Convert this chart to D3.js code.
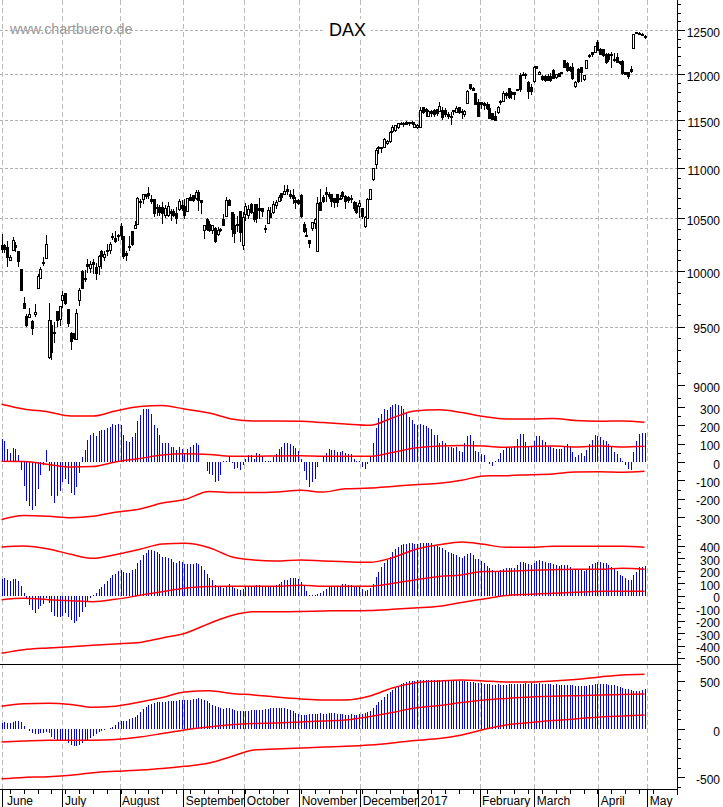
<!DOCTYPE html>
<html lang="en">
<head>
<meta charset="UTF-8">
<title>DAX</title>
<script src="https://cdn.jsdelivr.net/npm/d3@7"></script>
<style>
  html, body { margin: 0; padding: 0; background: #fff; }
  svg { display: block; font-family: "Liberation Sans", Arial, sans-serif; }
</style>
</head>
<body>
<div id="chart"></div>
<script>
// daily candles
var opens = [
10244,10237,10221,10099,10192,10244,10186,10019,9709,9585,
9579,9548,9609,9842,9936,10080,10122,9234,9509,9452,
9633,9558,9736,9794,9655,9441,9435,9390,9736,9997,
9936,10061,10026,10077,10038,10045,10180,10131,10196,10196,
10327,10308,10321,10423,10327,10167,10231,10375,10404,10442,
10666,10686,10736,10740,10686,10686,10610,10610,10610,10533,
10533,10570,10570,10547,10587,10627,10620,10567,10710,10726,
10693,10753,10673,10381,10494,10445,10388,10404,10349,10397,
10494,10517,10676,10560,10436,10429,10570,10237,10540,10533,
10640,10560,10640,10600,10593,10404,10452,10550,10560,10627,
10666,10740,10736,10786,10733,10726,10676,10676,10726,10445,
10340,10285,10404,10452,10183,10660,10710,10753,10733,10733,
10693,10733,10700,10753,10720,10710,10700,10660,10627,10617,
10593,10420,10500,10687,10883,11035,11202,11212,11209,11257,
11271,11375,11385,11420,11469,11469,11472,11472,11476,11417,
11417,11417,11633,11615,11539,11597,11604,11615,11597,11604,
11604,11561,11539,11593,11586,11633,11597,11557,11683,11885,
11838,11784,11694,11687,11676,11665,11629,11568,11543,11586,
11687,11705,11784,11838,11802,11795,11827,11982,11989,12000,
11910,11856,11914,12081,11996,11978,11978,11975,11975,12040,
11968,12004,12015,12151,12114,12077,12077,11860,12052,12070,
11939,12059,12206,12243,12243,12360,12280,12280,12224,12224,
12224,12169,12188,12144,12144,12022,12015,12048,12287,12471,
12464,12452,12430];
var highs = [
10349,10253,10282,10147,10317,10269,10186,10019,9761,9609,
9664,9558,9703,9973,10038,10135,10340,9709,9558,9542,
9642,9685,9815,9800,9655,9455,9441,9655,9845,10006,
10013,10109,10093,10109,10077,10147,10199,10189,10253,10269,
10360,10375,10349,10455,10327,10189,10333,10381,10477,10710,
10686,10743,10736,10810,10726,10693,10643,10627,10660,10633,
10660,10593,10593,10610,10693,10676,10686,10693,10743,10733,
10776,10776,10676,10433,10500,10478,10436,10413,10413,10404,
10543,10710,10693,10560,10543,10527,10577,10560,10653,10627,
10653,10643,10643,10703,10600,10436,10610,10610,10666,10676,
10733,10743,10826,10833,10776,10786,10710,10693,10743,10462,
10404,10292,10468,10500,10710,10793,10726,10810,10760,10743,
10700,10743,10726,10766,10726,10720,10726,10666,10660,10676,
10600,10527,10700,10793,11000,11202,11229,11219,11313,11288,
11382,11444,11451,11472,11479,11479,11486,11479,11486,11479,
11462,11640,11640,11629,11604,11604,11615,11622,11694,11640,
11629,11586,11586,11604,11651,11640,11615,11604,11820,11892,
11856,11784,11730,11694,11694,11694,11676,11568,11593,11651,
11712,11809,11802,11845,11809,11802,11838,12011,12025,12011,
11928,11892,12085,12096,12040,11993,11993,12004,12015,12059,
12004,12015,12029,12162,12132,12096,12125,11921,12066,12077,
11993,12162,12224,12250,12316,12383,12298,12287,12235,12232,
12243,12235,12235,12151,12162,12029,12029,12096,12452,12482,
12474,12464,12445];
var lows = [
10167,10173,10038,10093,10189,10180,10038,9815,9655,9497,
9573,9426,9582,9842,9927,10045,10115,9223,9214,9356,
9497,9503,9664,9694,9497,9299,9384,9384,9685,9842,
9897,9982,9982,9976,9921,9967,10019,10093,10141,10157,
10295,10263,10285,10295,10115,10093,10189,10237,10397,10436,
10600,10643,10686,10686,10643,10510,10527,10527,10445,10500,
10510,10478,10510,10445,10577,10577,10494,10560,10666,10660,
10676,10577,10543,10301,10381,10372,10349,10263,10333,10365,
10429,10510,10620,10317,10263,10365,10269,10199,10478,10494,
10543,10462,10455,10494,10510,10359,10445,10500,10543,10593,
10660,10666,10726,10726,10693,10643,10587,10627,10500,10359,
10321,10212,10381,10397,10180,10577,10653,10660,10693,10610,
10600,10610,10676,10693,10593,10653,10653,10577,10543,10500,
10494,10404,10500,10680,10873,10993,11150,11160,11202,11243,
11264,11368,11375,11410,11444,11427,11444,11438,11451,11417,
11410,11417,11568,11532,11532,11532,11528,11543,11593,11497,
11532,11514,11451,11550,11575,11568,11514,11532,11676,11820,
11809,11665,11532,11615,11604,11604,11507,11497,11486,11568,
11658,11701,11730,11723,11730,11712,11809,11802,11975,11946,
11723,11766,11906,12052,11993,11924,11914,11921,11917,11942,
11950,11964,12000,12066,12022,12029,11939,11849,11903,11914,
11928,12052,12184,12188,12235,12254,12213,12188,12114,12140,
12066,12132,12125,12103,11993,11986,11942,12007,12287,12449,
12445,12434,12401];
var closes = [
10205,10199,10125,10128,10292,10221,10093,9827,9661,9512,
9603,9483,9624,9955,10013,10074,10253,9555,9271,9446,
9555,9679,9773,9703,9530,9370,9398,9618,9827,9842,
9924,10045,10058,10058,9982,10141,10141,10154,10186,10253,
10314,10276,10340,10333,10135,10147,10224,10247,10429,10700,
10653,10736,10720,10726,10666,10543,10600,10560,10547,10600,
10620,10543,10527,10500,10666,10593,10533,10693,10680,10680,
10750,10673,10660,10433,10391,10381,10433,10276,10381,10381,
10436,10676,10627,10397,10359,10442,10365,10510,10620,10587,
10560,10494,10500,10577,10567,10397,10577,10510,10633,10653,
10710,10710,10760,10760,10720,10700,10653,10647,10520,10372,
10327,10263,10462,10487,10650,10577,10666,10733,10720,10666,
10660,10660,10686,10720,10666,10676,10693,10593,10560,10643,
10520,10510,10687,10787,10993,11184,11209,11198,11299,11271,
11368,11417,11438,11462,11458,11455,11458,11462,11469,11455,
11444,11604,11586,11593,11593,11568,11557,11575,11647,11528,
11561,11539,11525,11600,11629,11586,11590,11597,11813,11838,
11820,11669,11539,11665,11658,11629,11514,11507,11497,11640,
11701,11784,11766,11748,11773,11773,11834,11831,12000,11982,
11809,11809,12070,12066,12015,11939,11924,11924,11924,11950,
11993,11978,12007,12077,12040,12040,11950,11906,11914,12015,
11986,12151,12195,12224,12309,12261,12224,12206,12132,12162,
12206,12155,12132,12114,12004,12000,11978,12029,12445,12456,
12456,12441,12408];

// histograms of the three lower panels
var hist1 = [
124,113,69,47,76,71,36,-44,-131,-213,
-242,-262,-240,-149,-73,-15,64,-51,-186,-224,
-187,-158,-109,-91,-122,-171,-182,-138,-62,25,
64,118,146,158,140,167,173,173,186,191,
209,200,209,204,146,113,109,136,158,222,
255,288,288,288,260,200,186,146,104,104,
104,82,82,64,82,73,45,73,82,91,
104,91,0,0,-47,-67,-69,-109,-106,-73,
5,5,27,-5,-38,-35,-46,-18,18,36,
36,18,47,42,31,4,7,5,29,42,
69,80,104,104,96,89,75,60,15,-51,
-100,-138,-111,-91,-29,0,29,47,69,64,
64,53,53,58,47,42,42,15,4,5,
-27,-38,-9,25,102,184,238,260,288,282,
298,309,315,309,304,288,266,244,228,206,
200,206,200,195,184,178,149,146,102,116,
102,80,80,75,80,58,53,106,140,146,
113,58,53,42,36,0,-9,-24,4,15,
47,64,76,76,76,86,124,151,151,107,
82,80,113,140,140,118,107,86,86,75,
69,69,69,86,96,80,53,25,36,47,
31,64,96,118,146,142,138,118,113,96,
82,53,42,20,4,-18,-40,-46,53,113,
151,157,157];
var hist2 = [
133,141,125,117,133,133,117,77,21,-29,
-75,-115,-139,-107,-83,-67,-19,-59,-131,-163,
-171,-171,-163,-139,-171,-195,-216,-200,-171,-131,
-91,-43,-19,5,21,53,69,93,117,141,
165,173,197,205,189,181,181,205,213,261,
285,325,341,365,365,357,349,333,309,309,
301,291,272,261,277,269,253,253,253,253,
261,253,237,205,173,141,125,85,69,69,
61,69,93,77,61,53,45,51,67,72,
72,72,83,83,72,72,72,72,72,83,
93,107,123,128,139,139,139,131,107,75,
35,3,3,3,11,19,35,51,67,72,
72,72,72,91,91,83,83,72,72,67,
51,35,43,59,91,147,187,227,259,283,
312,347,371,387,403,411,416,419,419,416,
411,419,419,419,419,419,403,395,387,379,
363,347,339,331,323,307,299,315,331,339,
323,291,291,275,259,235,219,203,187,187,
203,211,219,219,219,219,243,267,267,259,
251,243,259,275,283,275,267,259,259,251,
243,235,243,243,243,227,211,203,203,203,
195,211,235,251,259,267,267,259,259,243,
227,211,195,163,155,139,123,123,163,187,
227,227,237];
var hist3 = [
62,73,62,62,73,83,83,73,31,0,
-24,-42,-48,-48,-42,-42,-31,-42,-80,-107,
-114,-114,-114,-114,-145,-166,-176,-176,-166,-145,
-125,-114,-93,-73,-52,-31,-21,-10,0,10,
21,42,73,83,83,83,104,114,125,145,
176,208,228,249,260,270,277,280,280,280,
291,291,291,291,298,298,298,301,301,308,
315,322,315,301,287,270,253,239,228,218,
211,218,218,208,197,190,187,190,188,190,
192,195,195,198,200,205,210,215,220,222,
222,220,215,210,200,185,170,155,150,148,
150,155,155,158,160,162,160,160,162,165,
165,160,158,155,150,150,152,150,150,152,
156,165,175,187,215,245,275,301,330,360,
384,405,430,450,467,478,488,495,498,502,
505,507,510,512,510,512,510,512,508,510,
505,508,505,508,500,502,498,495,490,490,
485,480,478,475,470,468,465,460,458,462,
458,460,458,462,465,465,462,468,470,472,
470,472,468,470,472,468,465,462,465,460,
462,458,460,458,455,452,455,450,448,445,
448,450,455,458,462,465,468,470,465,460,
458,455,450,440,430,420,410,400,395,392,
395,405,415];

// red bands, read every few days
var bandDays = [0,8,17,25,33,41,50,58,66,75,83,91,99,108,116,124,133,141,149,158,166,174,182,191,199,207,216,224,232];
var band1Upper = [315,289,273,251,251,278,303,308,289,267,235,224,224,222,215,207,200,240,278,285,270,248,235,235,237,226,222,224,217];
var band1Mid = [4,3,-13,-27,-25,0,19,38,45,41,31,31,33,34,31,31,31,52,76,87,90,87,80,85,87,82,87,82,86];
var band1Lower = [-314,-292,-296,-304,-296,-274,-256,-224,-205,-161,-167,-167,-164,-154,-164,-146,-142,-133,-124,-116,-100,-76,-75,-69,-65,-55,-53,-56,-51];
var band2Upper = [390,398,374,331,299,328,371,414,419,384,312,286,278,286,278,272,267,304,368,408,430,411,387,387,395,395,395,395,387];
var band2Mid = [-32,-21,-32,-40,-48,-29,3,32,59,74,75,75,75,83,75,75,75,98,126,154,166,194,195,203,208,211,211,219,211];
var band2Lower = [-461,-432,-418,-408,-397,-386,-374,-338,-302,-222,-158,-128,-128,-126,-122,-120,-118,-109,-98,-85,-54,-26,2,11,19,27,35,35,35];
var band3Upper = [236,262,267,255,225,236,280,327,384,398,369,353,332,312,301,301,343,426,478,498,509,498,488,488,498,514,540,561,568];
var band3Mid = [-135,-125,-117,-117,-117,-109,-83,-47,-10,21,44,57,62,73,83,93,130,171,218,244,275,301,317,332,340,346,353,358,363];
var band3Lower = [-516,-502,-496,-481,-454,-439,-426,-410,-387,-353,-286,-218,-208,-197,-187,-180,-166,-145,-119,-99,-62,-5,42,67,88,104,125,135,145];

// time axis
var monthNames = ["June","July","August","September","October","November","December","2017","February","March","April","May"];
var monthDays = [0,22,42.6,65.6,87.6,107.4,129.4,150.4,172.5,192.2,215.3,233];
var weekDays = d3.range(3,130,5).concat(d3.range(130,240,5));

// value axis ticks
var priceTicks = d3.range(9000,12501,500);
var priceMinor = d3.range(9000,12801,100);
var ticks1 = [300,200,100,0,-100,-200,-300];
var minor1 = d3.range(-400,351,50);
var ticks2 = [400,300,200,100,0,-100,-200,-300,-400,-500];
var minor2 = d3.range(-550,451,50);
var ticks3 = [500,0,-500];
var minor3 = d3.range(-600,601,100);

var width = 723, height = 807;
var axisX = 677, bottomY = 789;

var svg = d3.select("#chart").append("svg")
  .attr("width", width)
  .attr("height", height);

var x = d3.scaleLinear().domain([0,233]).range([1.5,647.3]);
var xp = function(d) { return Math.round(x(d)); };

var yPrice = d3.scaleLog().domain([9000,12500]).range([385,30]);
var y1 = d3.scaleLinear().domain([-300,300]).range([517,407]);
var y2 = d3.scaleLinear().domain([-500,400]).range([658.2,545.7]);
var y3 = d3.scaleLinear().domain([-500,500]).range([777.2,680.8]);

// grid
svg.append("g").selectAll("line").data(priceTicks.filter(function(d){ return d > 9000; })).enter().append("line")
  .attr("x1", 0)
  .attr("x2", axisX)
  .attr("y1", function(d){ return Math.round(yPrice(d)) + 0.5; })
  .attr("y2", function(d){ return Math.round(yPrice(d)) + 0.5; })
  .attr("stroke", "#b0b0b0")
  .attr("stroke-dasharray", "3 2");

svg.append("g").selectAll("line").data(monthDays).enter().append("line")
  .attr("x1", function(d){ return xp(d) + 0.5; })
  .attr("x2", function(d){ return xp(d) + 0.5; })
  .attr("y1", 0)
  .attr("y2", bottomY)
  .attr("stroke", "#bbb")
  .attr("stroke-dasharray", "5 3");

// titles
svg.append("text")
  .attr("x", 10).attr("y", 34)
  .attr("font-size", 14.3)
  .attr("fill", "#999")
  .text("www.chartbuero.de");
svg.append("rect")
  .attr("x", 325).attr("y", 19)
  .attr("width", 46).attr("height", 21)
  .attr("fill", "#fff");
svg.append("text")
  .attr("x", 329).attr("y", 36)
  .attr("font-size", 18)
  .attr("fill", "#000")
  .text("DAX");

// candles
var candles = svg.append("g").attr("shape-rendering", "crispEdges");
candles.selectAll("line").data(opens).enter().append("line")
  .attr("x1", function(d,i){ return xp(i) + 0.5; })
  .attr("x2", function(d,i){ return xp(i) + 0.5; })
  .attr("y1", function(d,i){ return yPrice(highs[i]); })
  .attr("y2", function(d,i){ return yPrice(lows[i]); })
  .attr("stroke", "#000");
candles.selectAll("rect").data(opens).enter().append("rect")
  .attr("x", function(d,i){ return xp(i) - 0.5; })
  .attr("width", 2)
  .attr("y", function(d,i){ return yPrice(Math.max(d, closes[i])); })
  .attr("height", function(d,i){ return Math.max(1, yPrice(Math.min(d, closes[i])) - yPrice(Math.max(d, closes[i]))); })
  .attr("fill", function(d,i){ return closes[i] < d ? "#000" : "#fff"; })
  .attr("stroke", "#000");

function drawPanel(y, bars, upper, mid, lower) {
  var g = svg.append("g");
  g.append("g").attr("shape-rendering", "crispEdges")
    .selectAll("rect").data(bars).enter().append("rect")
    .attr("x", function(d,i){ return xp(i); })
    .attr("width", 1)
    .attr("y", function(d){ return y(Math.max(d,0)); })
    .attr("height", function(d){ return Math.abs(y(d) - y(0)); })
    .attr("fill", "#0000ff");

  var line = d3.line()
    .x(function(d,i){ return x(bandDays[i]); })
    .y(function(d){ return y(d); })
    .curve(d3.curveMonotoneX);

  g.selectAll("path").data([upper, mid, lower]).enter().append("path")
    .attr("d", line)
    .attr("fill", "none")
    .attr("stroke", "#ff0000")
    .attr("stroke-width", 1.5);
}

drawPanel(y1, hist1, band1Upper, band1Mid, band1Lower);
drawPanel(y2, hist2, band2Upper, band2Mid, band2Lower);
drawPanel(y3, hist3, band3Upper, band3Mid, band3Lower);

// right axes, major ticks carry the labels
function drawAxis(y, major, minor) {
  var a = svg.append("g").attr("transform", "translate(" + axisX + ",0)").attr("shape-rendering", "crispEdges");
  a.call(d3.axisRight(y).tickValues(minor).tickSize(4).tickFormat(""));
  a.select(".domain").remove();
  var b = svg.append("g").attr("transform", "translate(" + axisX + ",0)");
  b.call(d3.axisRight(y).tickValues(major).tickSize(8));
  b.select(".domain").remove();
  b.selectAll("line").attr("shape-rendering", "crispEdges");
  b.selectAll("text")
    .attr("x", 43)
    .attr("dy", "0.5em")
    .attr("text-anchor", "end")
    .attr("font-size", 12)
    .attr("font-family", "Liberation Sans")
    .text(function(d){ return d; });
}
drawAxis(yPrice, priceTicks, priceMinor);
drawAxis(y1, ticks1, minor1);
drawAxis(y2, ticks2, minor2);
drawAxis(y3, ticks3, minor3);

// frame lines
svg.append("line").attr("x1", axisX + 0.5).attr("x2", axisX + 0.5).attr("y1", 0).attr("y2", 795).attr("stroke", "#000");
svg.append("line").attr("x1", 0).attr("x2", axisX).attr("y1", 664.5).attr("y2", 664.5).attr("stroke", "#000");

// time axis
var weeks = svg.append("g").attr("transform", "translate(0," + bottomY + ")").attr("shape-rendering", "crispEdges");
weeks.call(d3.axisBottom(x).tickValues(weekDays.filter(function(d){ return x(d) < axisX; })).tickSize(5).tickFormat(""));
weeks.select(".domain").remove();

var months = svg.append("g").attr("transform", "translate(0," + bottomY + ")");
months.call(d3.axisBottom(x).tickValues(monthDays).tickSize(18).tickFormat(function(d,i){ return monthNames[i]; }));
months.select(".domain").remove();
months.selectAll("line").attr("shape-rendering", "crispEdges");
months.selectAll("text")
  .attr("x", function(d,i){ return i == 0 ? 5 : 2; })
  .attr("y", 7)
  .attr("dy", "0.71em")
  .attr("text-anchor", "start")
  .attr("font-size", 12)
  .attr("font-family", "Liberation Sans");

svg.append("line").attr("x1", 0).attr("x2", axisX + 1).attr("y1", bottomY + 0.5).attr("y2", bottomY + 0.5).attr("stroke", "#000");
</script>
</body>
</html>
